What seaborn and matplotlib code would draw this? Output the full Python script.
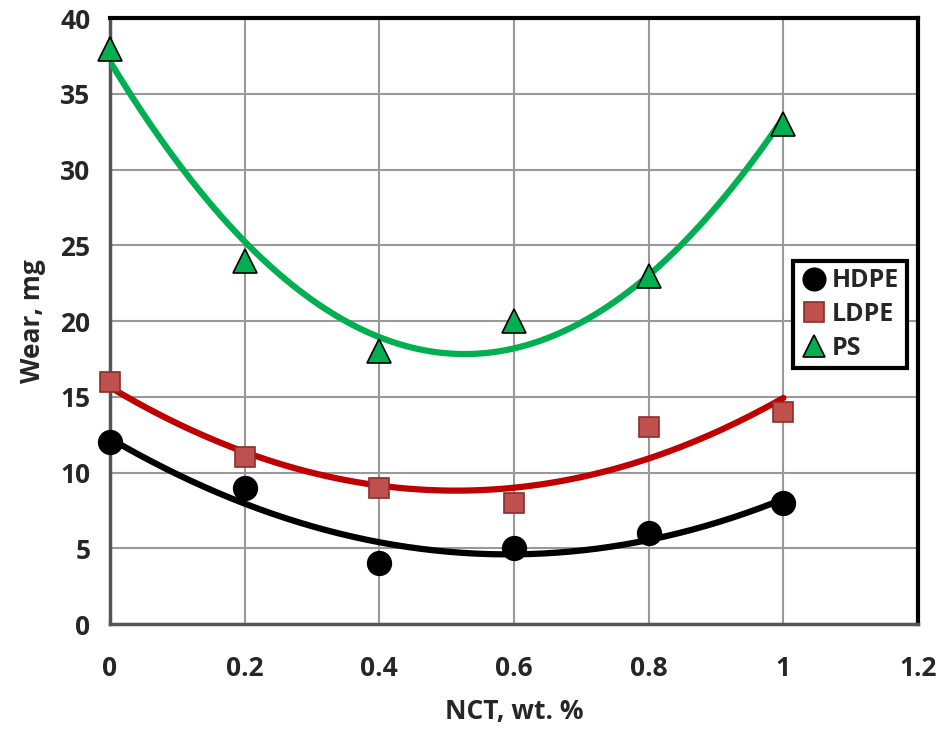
import numpy as np
import pandas as pd
import matplotlib
matplotlib.use("Agg")
import matplotlib.pyplot as plt
import seaborn as sns

nct = [0.0, 0.2, 0.4, 0.6, 0.8, 1.0]
hdpe = [12, 9, 4, 5, 6, 8]
ldpe = [16, 11, 9, 8, 13, 14]
ps = [38, 24, 18, 20, 23, 33]
x_ticks = [0, 0.2, 0.4, 0.6, 0.8, 1, 1.2]
x_tick_labels = ["0", "0.2", "0.4", "0.6", "0.8", "1", "1.2"]
y_ticks = [0, 5, 10, 15, 20, 25, 30, 35, 40]

sns.set_theme(style="white")
plt.rcParams['font.family'] = ['Open Sans', 'DejaVu Sans']
plt.rcParams['font.weight'] = 'bold'

fig = plt.figure(figsize=(9.44, 7.29), dpi=100)
ax = fig.add_axes([0.1165, 0.144, 0.856, 0.831])

series = [
    ("HDPE", hdpe, "o", "black", "black", "black", 17),
    ("LDPE", ldpe, "s", "#C0504D", "#8B2E2B", "#C00000", 15),
    ("PS", ps, "^", "#00B050", "black", "#00B050", 17),
]

xs = np.linspace(0, 1, 200)
for name, vals, mk, fc, ec, lc, ms in series:
    coef = np.polyfit(nct, vals, 2)
    sns.lineplot(x=xs, y=np.polyval(coef, xs), ax=ax, color=lc, lw=4.5, zorder=3)

for name, vals, mk, fc, ec, lc, ms in series:
    ax.plot(nct, vals, linestyle="none", marker=mk, markersize=ms,
            markerfacecolor=fc, markeredgecolor=ec, markeredgewidth=1.2,
            label=name, zorder=4, clip_on=False)

ax.set_xlim(0, 1.2)
ax.set_ylim(0, 40)
ax.set_xticks(x_ticks)
ax.set_xticklabels(x_tick_labels)
ax.set_yticks(y_ticks)
ax.grid(True, color="#999999", lw=1.5)
ax.set_axisbelow(True)
ax.tick_params(axis="x", length=0, pad=22, labelsize=19)
ax.tick_params(axis="y", length=0, pad=14, labelsize=19)
for lab in ax.get_xticklabels() + ax.get_yticklabels():
    lab.set_fontweight("bold")
ax.set_xlabel("NCT, wt. %", fontsize=19, fontweight="bold", labelpad=12)
ax.set_ylabel("Wear, mg", fontsize=19, fontweight="bold", labelpad=10)

ax.spines["top"].set_color("black")
ax.spines["top"].set_linewidth(3)
ax.spines["right"].set_color("black")
ax.spines["right"].set_linewidth(3)
ax.spines["left"].set_color("#555555")
ax.spines["left"].set_linewidth(2.5)
ax.spines["bottom"].set_color("#555555")
ax.spines["bottom"].set_linewidth(2.5)

leg = ax.legend(loc="upper left", bbox_to_anchor=(0.83, 0.62),
                prop={"size": 18, "weight": "bold"}, frameon=True,
                fancybox=False, handletextpad=0.15, borderpad=0.3,
                labelspacing=0.35, handlelength=1.1, markerscale=0.95)
leg.get_frame().set_edgecolor("black")
leg.get_frame().set_linewidth(3)
leg.get_frame().set_alpha(1)

fig.savefig("out.png", dpi=100)
